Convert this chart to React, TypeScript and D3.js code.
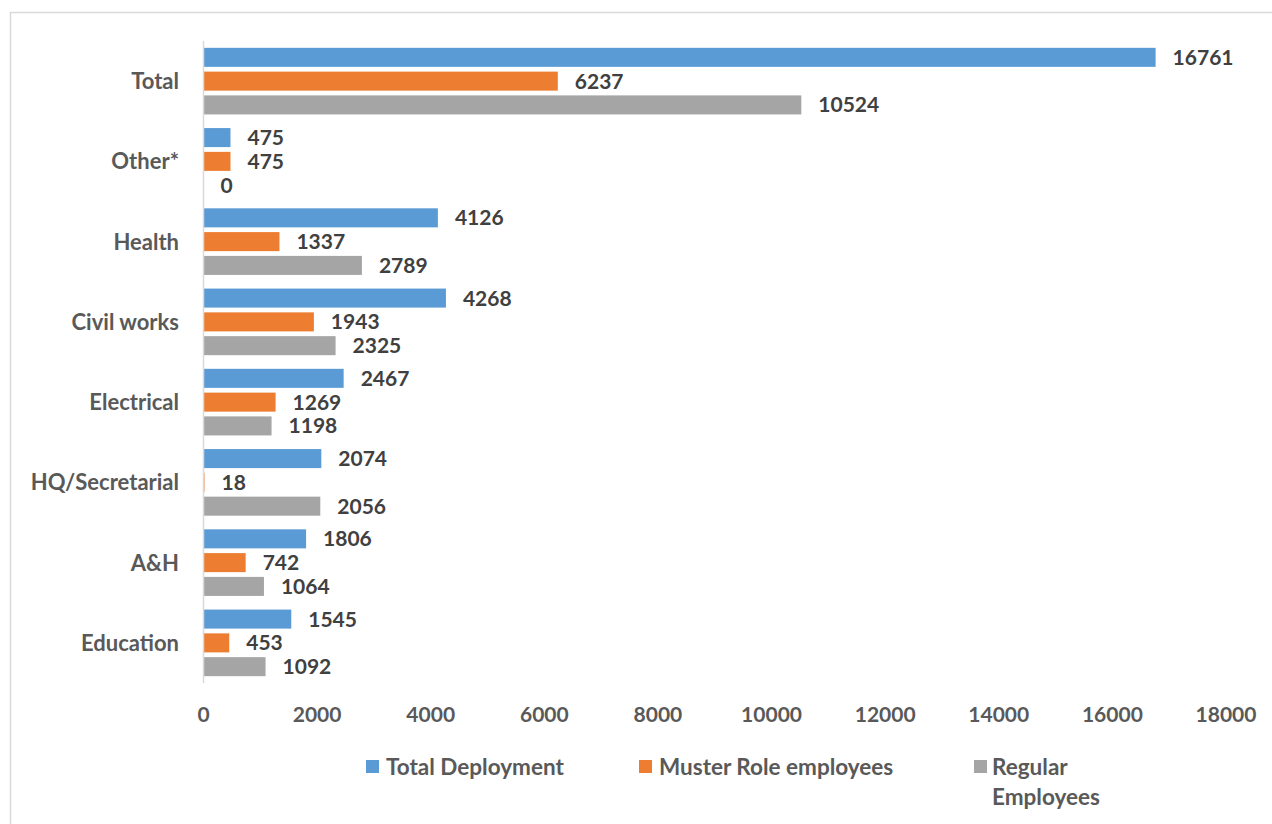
import React from "react";
import * as d3 from "d3";

const categories = ["Total", "Other*", "Health", "Civil works", "Electrical", "HQ/Secretarial", "A&H", "Education"];
const seriesNames = ["Total Deployment", "Muster Role employees", "Regular Employees"];
const totalDeployment = [16761, 475, 4126, 4268, 2467, 2074, 1806, 1545];
const musterRole = [6237, 475, 1337, 1943, 1269, 18, 742, 453];
const regularEmployees = [10524, 0, 2789, 2325, 1198, 2056, 1064, 1092];
const xTicks = [0, 2000, 4000, 6000, 8000, 10000, 12000, 14000, 16000, 18000];
const colors = ["#5b9bd5", "#ed7d31", "#a5a5a5"];

const W = 1272;
const H = 824;
const FONT = "Lato, 'Open Sans', sans-serif";

export default function App() {
  const x = d3.scaleLinear().domain([0, 18000]).range([203.5, 1226]);
  const y = d3.scaleBand<string>().domain(categories).range([41, 683]).paddingInner(0.17).paddingOuter(0.085);
  const yi = d3.scaleBand<string>().domain(seriesNames).range([0, y.bandwidth()]).paddingInner(0.2).paddingOuter(0);
  const data = [totalDeployment, musterRole, regularEmployees];

  const legendItems = [
    { name: "Total Deployment", lines: ["Total Deployment"], sx: 366, tx: 386 },
    { name: "Muster Role employees", lines: ["Muster Role employees"], sx: 639, tx: 659 },
    { name: "Regular Employees", lines: ["Regular", "Employees"], sx: 974, tx: 992 },
  ];

  return (
    <svg width={W} height={H} style={{ position: "absolute", left: 0, top: 0, background: "#fff" }} fontFamily={FONT}>
      <rect x={10.5} y={12.5} width={W + 10} height={H + 10} fill="#fff" stroke="#d9d9d9" strokeWidth={1.5} />
      {categories.map((c, ci) => (
        <g key={c} transform={`translate(0,${y(c)})`}>
          {data.map((arr, si) => {
            const v = arr[ci];
            const by = yi(seriesNames[si]) as number;
            const bh = yi.bandwidth();
            return (
              <g key={si}>
                {v > 0 && (
                  <rect x={x(0)} y={by} width={Math.max(x(v) - x(0), 1)} height={bh} fill={colors[si]} />
                )}
                <text x={x(v) + 17} y={by + bh / 2} dy="0.36em" fontSize={21} fontWeight="bold" fill="#404040">
                  {v}
                </text>
              </g>
            );
          })}
        </g>
      ))}
      <line x1={x(0)} x2={x(0)} y1={41} y2={683} stroke="#d9d9d9" strokeWidth={1.5} />
      {categories.map((c) => (
        <text
          key={c}
          x={179}
          y={(y(c) as number) + y.bandwidth() / 2}
          dy="0.36em"
          textAnchor="end"
          fontSize={22}
          fontWeight="bold"
          fill="#595959"
        >
          {c}
        </text>
      ))}
      {xTicks.map((t) => (
        <text key={t} x={x(t)} y={714} dy="0.36em" textAnchor="middle" fontSize={21} fontWeight="bold" fill="#595959">
          {t}
        </text>
      ))}
      {legendItems.map((it, i) => (
        <g key={it.name}>
          <rect x={it.sx} y={760} width={13} height={13} fill={colors[i]} />
          {it.lines.map((ln, li) => (
            <text key={li} x={it.tx} y={767 + li * 30} dy="0.36em" fontSize={22.5} fontWeight="bold" fill="#595959">
              {ln}
            </text>
          ))}
        </g>
      ))}
    </svg>
  );
}
